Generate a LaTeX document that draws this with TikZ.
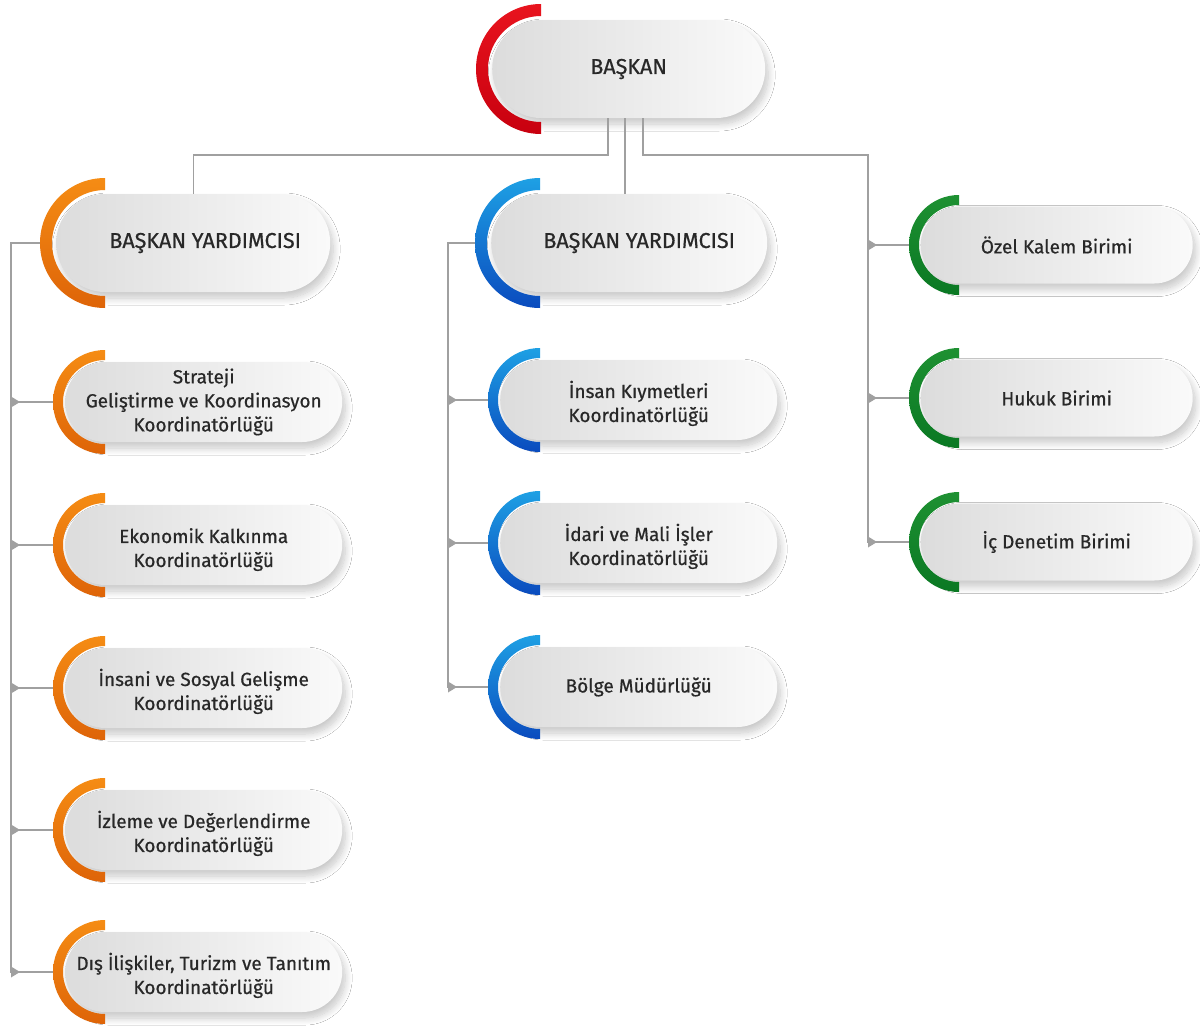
\documentclass[tikz,border=0pt]{standalone}
\usepackage{fontspec}
\setmainfont{Fira Sans}[FakeBold=0.6]
\usetikzlibrary{shadows.blur,calc}
\definecolor{linegray}{RGB}{160,160,160}
\definecolor{txt}{RGB}{40,40,40}
\definecolor{redtop}{RGB}{232,20,30}
\definecolor{redbot}{RGB}{200,0,15}
\definecolor{orangetop}{RGB}{245,140,20}
\definecolor{orangebot}{RGB}{222,100,8}
\definecolor{bluetop}{RGB}{30,160,228}
\definecolor{bluebot}{RGB}{10,75,190}
\definecolor{greentop}{RGB}{30,145,50}
\definecolor{greenbot}{RGB}{10,120,35}
\definecolor{pillL}{RGB}{220,220,220}
\definecolor{pillR}{RGB}{250,250,250}
\newcommand\bigtxt{\fontsize{21.5}{24}\selectfont}
\newcommand\smalltxt{\fontsize{19}{24}\selectfont}
\newcommand\dn{\rule{0pt}{24pt}}
\tikzset{
  pill/.style={left color=pillL, right color=pillR,
    blur shadow={shadow xshift=3pt, shadow yshift=-6pt, shadow blur radius=7pt, shadow blur steps=12, shadow opacity=22},
    align=center, text=txt, inner sep=0pt},
  big/.style={font=\bigtxt},
  small/.style={font=\smalltxt},
  conn/.style={draw=linegray, line width=1.2pt},
}
% #1 name, #2 arc centre x, #3 arc centre y (image px), #4 pill width, #5 pill height,
% #6 outer radius, #7 style, #8 colour scheme, #9 text
\newcommand\orgbox[9]{%
  \pgfmathsetmacro\pr{#5/2}%
  \pgfmathsetmacro\ri{#5>90 ? #6-12 : #6-10}%
  \node[pill, #7, minimum width=#4pt, minimum height=#5pt, rounded corners=\pr pt, anchor=west] (#1) at ({#2-\pr},{-#3}) {#9};
  \coordinate (#1-c) at (#2,-#3);
  \coordinate (#1-a) at ({#2-#6},{-#3});
  \shade[top color=#8top, bottom color=#8bot] (#1-c) ++(0,#6) arc[start angle=90,end angle=270,radius=#6] -- ++(0,{#6-\ri}) arc[start angle=270,end angle=90,radius=\ri] -- cycle;
}
\newcommand\tick[1]{\fill[linegray] (#1) ++(0,5.5) -- ++(9,-5.5) -- ++(-9,-5.5) -- cycle;}
\begin{document}
\begin{tikzpicture}[x=1pt,y=1pt]
\useasboundingbox (0,0) rectangle (1200,-1028);
\fill[white] (0,0) rectangle (1200,-1028);
% top
\orgbox{bas}{541}{69}{273}{98}{65}{big}{red}{BAŞKAN}
% vice presidents
\orgbox{byL}{105}{243}{274}{98}{65}{big}{orange}{\hspace{24pt}BAŞKAN YARDIMCISI}
\orgbox{byM}{540}{243}{276}{98}{65}{big}{blue}{\hspace{20pt}BAŞKAN YARDIMCISI}
% left column
\orgbox{l1}{105}{402}{277}{80}{52}{small}{orange}{Strateji\\ Geliştirme ve Koordinasyon\\ Koordinatörlüğü}
\orgbox{l2}{105}{545}{277}{80}{52}{small}{orange}{\dn Ekonomik Kalkınma\\ Koordinatörlüğü}
\orgbox{l3}{105}{688}{277}{80}{52}{small}{orange}{\dn İnsani ve Sosyal Gelişme\\ Koordinatörlüğü}
\orgbox{l4}{105}{830}{277}{80}{52}{small}{orange}{\dn İzleme ve Değerlendirme\\ Koordinatörlüğü}
\orgbox{l5}{105}{972}{277}{80}{52}{small}{orange}{\dn Dış İlişkiler, Turizm ve Tanıtım\\ Koordinatörlüğü}
% middle column
\orgbox{m1}{540}{400}{277}{80}{52}{small}{blue}{\dn İnsan Kıymetleri\\ Koordinatörlüğü}
\orgbox{m2}{540}{543}{277}{80}{52}{small}{blue}{\dn İdari ve Mali İşler\\ Koordinatörlüğü}
\orgbox{m3}{540}{687}{277}{80}{52}{small}{blue}{Bölge Müdürlüğü}
% right column
\orgbox{r1}{959}{245}{272}{77}{50}{small}{green}{Özel Kalem Birimi}
\orgbox{r2}{959}{398}{272}{77}{50}{small}{green}{Hukuk Birimi}
\orgbox{r3}{959}{542}{272}{77}{50}{small}{green}{İç Denetim Birimi}
% junction coordinates
\coordinate (jL) at (608,-155);
\coordinate (jM) at (625,-155);
\coordinate (jR) at (643,-155);
\coordinate (sL) at (11,0);
\coordinate (sM) at (448,0);
\coordinate (sR) at (868,0);
% top connectors
\draw[conn] (bas.south -| jL) -- (jL) -| (byL.north);
\draw[conn] (bas.south -| jM) -- (byM.north -| jM);
\draw[conn] (bas.south -| jR) -- (jR) -| (sR |- r3-a) -- (r3-a);
\draw[conn] (sR |- r1-a) -- (r1-a);
\draw[conn] (sR |- r2-a) -- (r2-a);
% left spine
\draw[conn] (byL-a) -- (sL |- byL-a) -- (sL |- l5-a) -- (l5-a);
\foreach \k in {l1,l2,l3,l4}{\draw[conn] (sL |- \k-a) -- (\k-a);}
% middle spine
\draw[conn] (byM-a) -- (sM |- byM-a) -- (sM |- m3-a) -- (m3-a);
\foreach \k in {m1,m2}{\draw[conn] (sM |- \k-a) -- (\k-a);}
% ticks
\foreach \k in {l1,l2,l3,l4,l5}{\tick{sL |- \k-a}}
\foreach \k in {m1,m2,m3}{\tick{sM |- \k-a}}
\foreach \k in {r1,r2,r3}{\tick{sR |- \k-a}}
\end{tikzpicture}
\end{document}
